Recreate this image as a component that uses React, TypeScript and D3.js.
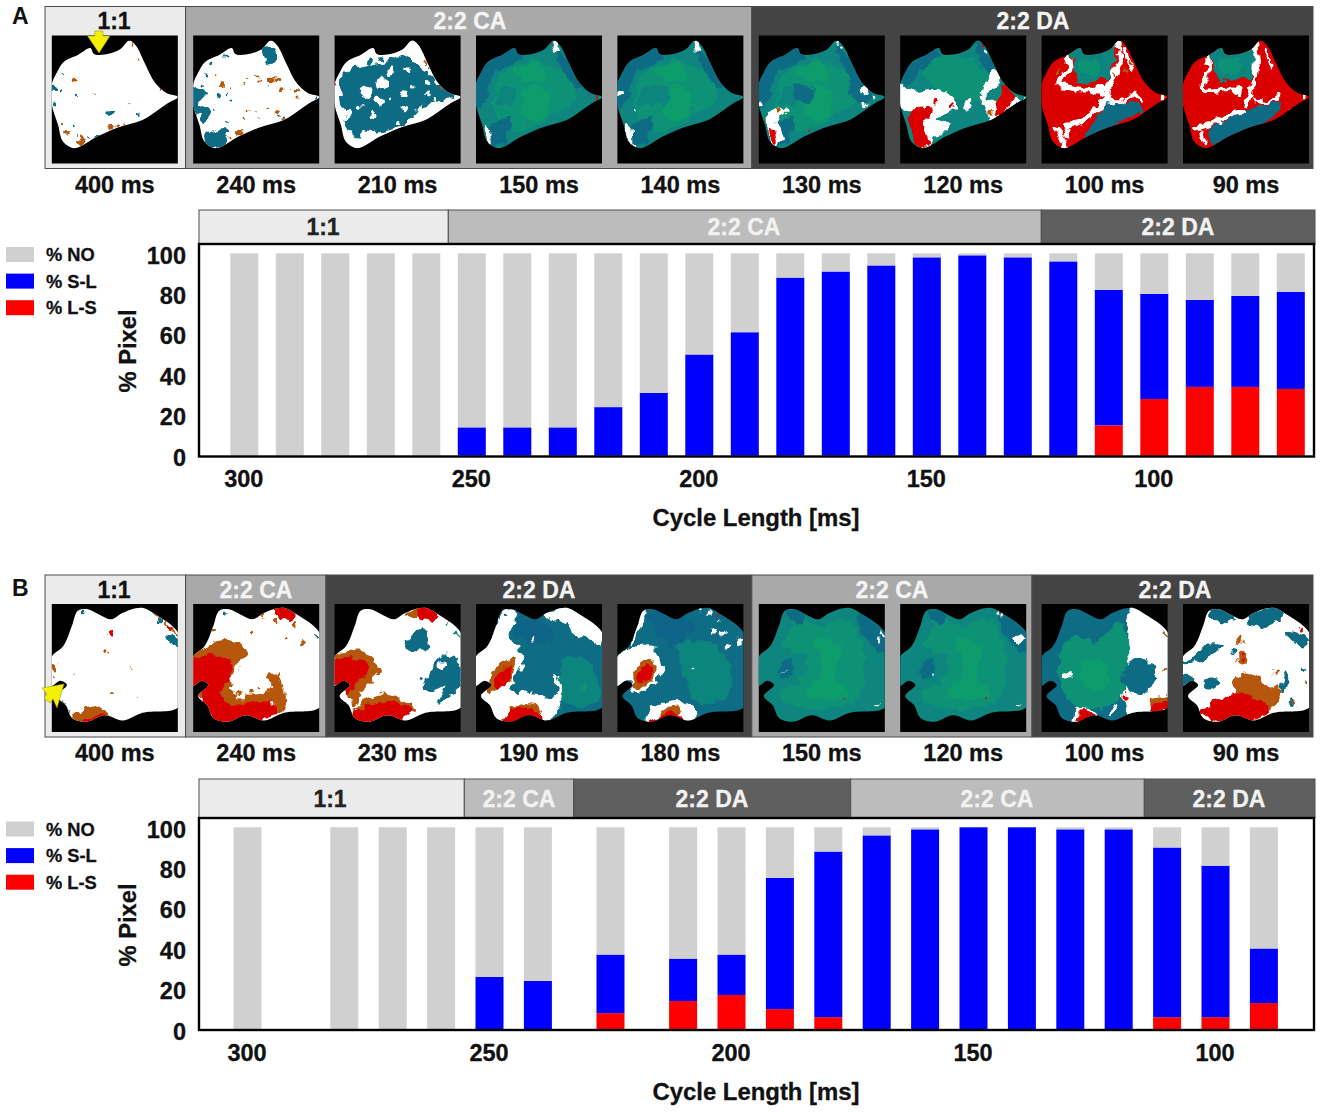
import React from "react";
import * as d3 from "d3";

// ---------- bar chart data ----------
const cycleA = [300,290,280,270,260,250,240,230,220,210,200,190,180,170,160,150,140,130,120,110,100,90,80,70];
const lsA =    [0,0,0,0,0,0,0,0,0,0,0,0,0,0,0,0,0,0,0,15,28,34,34,33];
const slA =    [0,0,0,0,0,14,14,14,24,31,50,61,88,91,94,98,99,98,96,67,52,43,45,48];
const noA =    [100,100,100,100,100,86,86,86,76,69,50,39,12,9,6,2,1,2,4,18,20,23,21,19];

const cycleB = [300,280,270,260,250,240,225,210,200,190,180,170,160,150,140,130,120,110,100,90];
const lsB =    [0,0,0,0,0,0,8,14,17,10,6,0,0,0,0,0,0,6,6,13];
const slB =    [0,0,0,0,26,24,29,21,20,65,82,96,99,100,100,99,99,84,75,27];
const noB =    [100,100,100,100,74,76,63,65,63,25,12,4,1,0,0,1,1,10,19,60];

const xTicks = [300,250,200,150,100];
const yTicks = [0,20,40,60,80,100];
const legendNames = ["% NO","% S-L","% L-S"];
const legendColors = ["#d0d0d0","#0000ff","#ff0000"];

type Seg = { label: string; from: number; to: number; tx: number };
const stripA: Seg[] = [
  { label:"1:1", from:199, to:448.3, tx:323 },
  { label:"2:2 CA", from:448.3, to:1041.3, tx:744 },
  { label:"2:2 DA", from:1041.3, to:1315, tx:1178 },
];
const stripB: Seg[] = [
  { label:"1:1", from:199, to:464.3, tx:330 },
  { label:"2:2 CA", from:464.3, to:573.7, tx:519 },
  { label:"2:2 DA", from:573.7, to:850.7, tx:712 },
  { label:"2:2 CA", from:850.7, to:1144.3, tx:997 },
  { label:"2:2 DA", from:1144.3, to:1315, tx:1229 },
];
const frameA: Seg[] = [
  { label:"1:1", from:45, to:185.6, tx:114 },
  { label:"2:2 CA", from:185.6, to:751.8, tx:470 },
  { label:"2:2 DA", from:751.8, to:1313, tx:1033 },
];
const frameB: Seg[] = [
  { label:"1:1", from:45, to:185.6, tx:114 },
  { label:"2:2 CA", from:185.6, to:326, tx:256 },
  { label:"2:2 DA", from:326, to:751.8, tx:539 },
  { label:"2:2 CA", from:751.8, to:1032, tx:892 },
  { label:"2:2 DA", from:1032, to:1313, tx:1175 },
];
const timesA = ["400 ms","240 ms","210 ms","150 ms","140 ms","130 ms","120 ms","100 ms","90 ms"];
const timesB = ["400 ms","240 ms","230 ms","190 ms","180 ms","150 ms","120 ms","100 ms","90 ms"];

// ---------- tissue maps (map units 0-100) ----------
const W="#ffffff", T="#0e6c84", TD="#0f6488", M="#0f857f", G="#0d9276", GB="#0b9d6c", O="#b5590e", R="#da0000", GY="#909090";
type Pt = [number, number];
type Shape = { c: string; p: Pt[]; w?: number };
type Dots = { c: string; d: [number, number, number][] };
type MapDef = { base: string; shapes: Shape[]; dots: Dots[] };

const outlineA: Pt[] = [[0,38],[4,29],[9,21],[21,15],[31,10],[33,14],[46,14],[54,11],[62,4],[66,7],[74,22],[82,37],[91,45],[100,48],[92,53],[72,66],[52,72],[36,79],[17,88],[9,83],[5,70],[0,54]];
const outlineB: Pt[] = [[0,41],[9,33],[16,17],[21,5],[27,4],[39,9],[47,12],[56,7],[72,3],[82,8],[100,22],[100,81],[72,85],[56,91],[42,87],[27,92],[16,89],[11,79],[4,72],[12,63],[7,60],[0,64]];

const washA: Shape[] = [
  { c:T, p:[[0,32],[15,12],[38,8],[34,20],[14,30],[8,50],[0,58]] },
  { c:T, p:[[60,2],[72,18],[86,42],[72,34]] },
  { c:G, p:[[22,30],[45,20],[68,28],[80,48],[62,62],[45,72],[28,74],[14,55]] },
  { c:GB, p:[[30,26],[52,22],[54,34],[38,36]] },
  { c:GB, p:[[42,40],[58,44],[56,60],[44,68],[36,52]] },
  { c:T, p:[[16,68],[28,64],[26,78],[14,88],[8,76]] },
  { c:M, p:[[20,40],[32,42],[30,54],[18,52]] },
];
const washB: Shape[] = [
  { c:G, p:[[30,12],[50,18],[70,12],[84,40],[80,72],[50,82],[22,78],[16,70],[32,60],[38,38],[20,38]] },
  { c:GB, p:[[46,28],[64,32],[62,58],[72,70],[52,74],[36,72],[50,52]] },
  { c:M, p:[[14,42],[24,34],[30,48],[24,62],[12,56]] },
  { c:T, p:[[18,48],[24,42],[26,52],[20,58]] },
  { c:T, p:[[78,8],[100,22],[100,40],[86,28]] },
  { c:T, p:[[22,4],[36,8],[32,16]] },
];

const mapsA: MapDef[] = [
  { base:W, shapes:[], dots:[
    { c:T, d:[[1,41,2.5],[8,30,1],[7,44,1.5],[2,52,2],[46,61,2],[17,71,1.2],[69,62,1.5],[36,79,1.5],[19,48,1],[20,77,0.8],[30,80,1]] },
    { c:O, d:[[18,36,1.6],[47,72,2.2],[52,71,1.5],[23,82,3],[20,84,1.6],[9,68,1.2],[12,76,1.5],[64,6,1.2],[69,18,0.8],[77,25,0.8],[63,53,0.7],[58,70,1.2],[36,46,0.5]] },
    { c:R, d:[[86,42,1]] },
  ]},
  { base:W, shapes:[
    { c:T, p:[[-3,42],[6,41],[10,46],[5,52],[13,60],[8,68],[4,62],[-3,60]] },
    { c:T, p:[[12,76],[28,74],[26,83],[15,89],[8,82]] },
    { c:T, p:[[55,10],[64,9],[66,20],[58,22]] },
  ], dots:[
    { c:T, d:[[14,22,2],[10,30,1.2],[26,16,1.2],[20,48,1.5],[26,45,1],[30,52,1.2],[18,58,0.8],[68,63,1.2],[72,64,0.8],[8,38,1.2],[28,68,1],[98,48,1.2]] },
    { c:O, d:[[23,38,2.2],[20,31,0.8],[39,37,0.8],[44,33,1],[50,32,0.8],[52,35,1.2],[62,34,2.6],[66,36,1.5],[60,40,0.8],[70,42,1.5],[82,44,1.5],[84,48,1.2],[76,42,0.8],[48,60,1],[44,59,0.8],[52,63,0.8],[60,58,1],[68,60,1.6],[72,65,1.2],[40,65,0.8],[36,76,2.2],[30,80,1.2],[40,48,0.6],[30,42,0.8]] },
  ]},
  { base:W, shapes:[
    { c:T, p:[[5,30],[25,24],[43,20],[51,16],[68,25],[81,36],[95,48],[75,54],[55,70],[28,77],[15,78],[6,52]] },
    { c:W, p:[[50,14],[62,2],[70,10],[72,22],[60,18]] },
  ], dots:[
    { c:T, d:[[28,20,3],[36,18,2],[76,26,1]] },
    { c:W, d:[[25,44,5],[38,37,4.5],[55,45,3],[35,52,3.5],[56,57,3],[30,62,2.5],[68,57,2.5],[73,36,2],[45,28,3],[58,26,2],[20,55,1.5],[50,68,1.5],[45,50,1.5],[74,46,1.5],[30,76,3],[22,78,2.5],[10,62,2.5],[62,40,1.5],[80,50,2]] },
    { c:O, d:[[72,21,1],[84,42,1]] },
    { c:R, d:[[9,84,1.2],[0,38,1]] },
  ]},
  { base:M, shapes:[
    ...washA,
    { c:W, p:[[61,3],[66,8],[67,13],[62,12]] },
    { c:W, p:[[8,70],[10,84],[12,84],[11,72]] },
  ], dots:[{ c:R, d:[[58,6,0.6],[38,70,0.6],[78,40,0.5],[96,47,0.7]] }] },
  { base:M, shapes:[
    ...washA,
    { c:M, p:[[30,38],[42,42],[38,55],[26,52]] },
    { c:W, p:[[61,3],[66,8],[67,13],[62,12]] },
    { c:W, p:[[6,68],[11,70],[13,84],[15,88],[10,85]] },
  ], dots:[
    { c:W, d:[[1,46,2],[13,60,1]] },
    { c:R, d:[[6,66,0.7],[33,70,0.6],[52,58,0.5],[8,82,0.8],[60,58,0.5]] },
  ]},
  { base:M, shapes:[
    ...washA,
    { c:T, p:[[30,36],[44,44],[40,54],[28,50]] },
    { c:T, p:[[72,34],[84,38],[90,50],[76,52]] },
    { c:W, p:[[5,65],[19,55],[22,59],[15,67],[19,80],[12,86],[8,74]] },
    { c:R, p:[[9,72],[12,74],[14,84],[11,82]] },
    { c:O, p:[[14,57],[19,56],[18,60],[15,62]] },
  ], dots:[
    { c:W, d:[[84,43,3],[85,54,2],[90,50,1.5],[1,52,2],[62,5,1.5],[66,9,1.5]] },
    { c:R, d:[[62,3,0.8],[42,70,0.6],[38,74,0.6]] },
  ]},
  { base:M, shapes:[
    { c:G, p:[[18,22],[40,15],[60,22],[70,36],[64,50],[44,50],[22,34]] },
    { c:T, p:[[0,34],[18,14],[30,12],[14,30],[6,38]] },
    { c:T, p:[[60,2],[70,14],[76,28],[66,26]] },
    { c:W, p:[[-3,37],[10,43],[27,42],[42,48],[44,57],[30,63],[37,72],[24,83],[17,90],[14,75],[7,62],[-3,54]] },
    { c:R, p:[[7,62],[19,54],[24,59],[19,72],[22,83],[16,90],[10,75]] },
    { c:W, p:[[74,27],[80,30],[77,38],[67,48],[77,52],[102,48],[87,59],[74,68],[69,59],[64,50]] },
    { c:R, p:[[80,36],[90,49],[78,62],[74,52],[82,46]] },
    { c:R, p:[[88,56],[94,53],[80,64],[74,68]] },
    { c:W, p:[[55,50],[57,52],[52,59],[50,57]] },
  ], dots:[
    { c:R, d:[[27,51,3],[41,55,1.5],[67,7,1.5]] },
    { c:O, d:[[80,28,1.5],[72,60,2]] },
    { c:W, d:[[63,4,1.5],[69,12,1.5],[22,67,2]] },
  ]},
  { base:R, shapes:[
    { c:M, p:[[23,12],[32,9],[42,13],[57,6],[58,17],[52,33],[38,36],[27,34],[25,20]] },
    { c:G, p:[[30,20],[44,20],[48,28],[36,32]] },
    { c:T, p:[[52,52],[80,57],[62,68],[35,82],[38,70],[45,62]] },
    { c:W, w:4.5, p:[[20,14],[22,28],[13,37],[30,42],[48,43],[52,48],[44,58],[33,66],[20,71]] },
    { c:W, w:3.5, p:[[12,72],[16,80],[18,88]] },
    { c:W, w:5, p:[[60,6],[62,20],[54,36],[52,46]] },
    { c:W, w:3, p:[[52,50],[62,52],[72,46],[80,52]] },
    { c:W, w:3.5, p:[[66,10],[72,26]] },
  ], dots:[
    { c:R, d:[[60,12,2.5],[62,42,3],[58,46,2.5]] },
    { c:O, d:[[12,28,1.5],[66,28,1.5],[58,30,1],[70,20,1]] },
    { c:W, d:[[96,47,1.5],[20,76,3],[24,70,2.5]] },
  ]},
  { base:R, shapes:[
    { c:M, p:[[22,12],[32,9],[42,13],[57,3],[58,17],[53,33],[42,34],[27,34],[23,20]] },
    { c:G, p:[[28,20],[42,18],[48,26],[34,30]] },
    { c:T, p:[[53,57],[77,54],[67,68],[48,76],[23,85],[20,75],[33,67]] },
    { c:W, w:3.5, p:[[20,14],[20,30],[16,42],[42,42],[46,46]] },
    { c:W, w:4, p:[[57,6],[58,25],[55,40],[50,55]] },
    { c:W, w:4, p:[[10,73],[20,70],[35,63],[46,60]] },
    { c:W, w:2.5, p:[[14,76],[18,86]] },
    { c:W, w:2.5, p:[[56,50],[68,52],[76,46]] },
    { c:W, w:2, p:[[66,10],[70,24]] },
  ], dots:[
    { c:R, d:[[60,34,3],[58,44,3]] },
    { c:W, d:[[96,46,1.5],[30,68,2]] },
    { c:O, d:[[86,58,1.2]] },
  ]},
];

const mapsB: MapDef[] = [
  { base:W, shapes:[
    { c:O, p:[[17,88],[34,80],[44,84],[46,92],[26,95]] },
    { c:R, p:[[24,91],[39,86],[46,90],[31,96]] },
    { c:O, w:1.5, p:[[82,8],[92,17],[98,24]] },
    { c:T, p:[[91,25],[102,29],[102,33],[92,28]] },
    { c:GY, w:3, p:[[9,78],[14,84]] },
  ], dots:[
    { c:R, d:[[48,24,2.2],[94,20,1.2]] },
    { c:O, d:[[41,37,1.6],[44,40,1],[48,70,1.2],[2,49,2.2],[2,58,1],[19,53,0.7],[63,50,0.5],[68,71,0.5],[42,25,0.6]] },
    { c:T, d:[[26,5,1.5],[86,14,1]] },
  ]},
  { base:W, shapes:[
    { c:O, p:[[-3,40],[7,35],[27,28],[42,37],[33,53],[32,68],[60,68],[67,53],[73,76],[70,84],[23,79],[-3,68]] },
    { c:R, p:[[-3,44],[26,42],[32,50],[22,70],[28,78],[62,76],[68,84],[45,94],[25,96],[10,82],[6,66],[-3,64]] },
    { c:R, p:[[63,3],[77,3],[82,11],[73,12]] },
  ], dots:[
    { c:O, d:[[55,9,2],[80,17,2],[86,30,2],[47,24,1.5],[17,21,2],[62,58,4],[52,65,1],[46,68,2],[75,28,1.5],[66,13,2]] },
    { c:W, d:[[38,72,2.5],[63,78,1.5],[30,60,1.5]] },
    { c:T, d:[[26,6,1.5],[97,26,1]] },
  ]},
  { base:W, shapes:[
    { c:O, p:[[-3,41],[8,37],[25,38],[36,53],[25,64],[15,79],[8,63],[-3,62]] },
    { c:R, p:[[-3,45],[18,43],[26,47],[11,70],[10,66],[-3,61]] },
    { c:O, p:[[15,82],[35,71],[55,75],[65,83],[55,87]] },
    { c:R, p:[[14,86],[45,76],[61,84],[41,94],[21,94]] },
    { c:T, p:[[55,33],[70,18],[75,34],[63,37]] },
    { c:T, p:[[71,66],[85,41],[95,41],[102,61],[88,74],[81,78],[88,64],[78,68]] },
    { c:R, p:[[63,5],[78,3],[83,12],[71,12]] },
    { c:O, p:[[56,8],[66,5],[66,11]] },
  ], dots:[
    { c:W, d:[[85,48,2.5],[20,76,1.5]] },
    { c:T, d:[[70,58,1.5],[90,16,1]] },
    { c:M, d:[[96,24,1.5]] },
  ]},
  { base:T, shapes:[
    { c:TD, p:[[30,12],[50,14],[62,26],[40,30]] },
    { c:M, p:[[70,42],[90,46],[96,76],[70,76]] },
    { c:W, p:[[-3,41],[9,29],[14,18],[24,3],[31,6],[26,26],[39,42],[28,66],[49,71],[64,71],[63,55],[68,64],[63,87],[53,93],[39,90],[24,95],[16,92],[-3,64]] },
    { c:W, p:[[46,4],[60,6],[70,3],[82,6],[102,24],[99,32],[88,26],[78,24],[72,15],[60,12]] },
    { c:O, p:[[9,64],[16,50],[31,42],[28,58],[13,68]] },
    { c:R, p:[[14,61],[28,46],[23,63],[17,66]] },
    { c:O, p:[[26,83],[46,78],[51,89],[26,91]] },
    { c:R, p:[[21,92],[28,83],[46,82],[52,90],[31,96]] },
  ], dots:[
    { c:G, d:[[86,66,3],[68,80,0.8]] },
    { c:W, d:[[46,28,1.5],[44,70,1.2],[64,58,1.5]] },
    { c:T, d:[[25,8,1.5],[50,6,1.5]] },
  ]},
  { base:T, shapes:[
    { c:TD, p:[[24,8],[40,8],[60,16],[44,34],[36,26]] },
    { c:M, p:[[50,30],[80,34],[90,70],[66,78],[54,60]] },
    { c:W, p:[[-3,42],[24,32],[33,39],[36,53],[28,62],[17,70],[8,62],[-3,64]] },
    { c:O, p:[[11,60],[24,43],[32,50],[17,67]] },
    { c:R, p:[[15,58],[24,47],[28,50],[18,63]] },
    { c:W, p:[[24,84],[47,75],[61,82],[61,94],[24,95]] },
    { c:O, p:[[34,86],[46,79],[50,86],[40,88]] },
    { c:R, p:[[24,93],[34,87],[46,84],[52,92],[34,96]] },
    { c:W, p:[[10,32],[20,3],[24,2],[18,20]] },
  ], dots:[
    { c:W, d:[[67,5,1.5],[73,7,1.5],[77,22,2],[84,22,2],[87,33,2.5],[97,30,2.5],[80,14,1],[60,50,1],[46,3,1]] },
    { c:R, d:[[80,9,1.2]] },
  ]},
  { base:M, shapes:[...washB], dots:[
    { c:R, d:[[68,72,0.8]] },
    { c:W, d:[[20,52,0.4],[97,24,1.2],[95,29,1.2],[94,80,0.7]] },
  ]},
  { base:M, shapes:[...washB], dots:[
    { c:R, d:[[68,72,0.9]] },
    { c:W, d:[[24,55,1],[77,7,1.5],[81,9,1.5],[92,28,2.5],[96,28,2],[94,80,0.7]] },
  ]},
  { base:T, shapes:[
    { c:G, p:[[14,42],[28,24],[44,30],[62,14],[68,32],[62,74],[42,82],[26,80],[14,58]] },
    { c:GB, p:[[34,44],[52,46],[50,66],[34,66]] },
    { c:W, p:[[72,3],[82,6],[102,22],[102,84],[88,86],[72,87],[66,70],[70,54],[68,38]] },
    { c:T, p:[[65,50],[78,42],[90,53],[82,71],[68,66]] },
    { c:O, p:[[86,74],[102,72],[102,78],[88,80]] },
    { c:R, p:[[86,80],[102,77],[102,84],[88,84]] },
    { c:W, p:[[24,92],[28,82],[40,83],[46,90],[36,92]] },
    { c:R, p:[[28,90],[32,83],[40,85],[42,90],[30,92]] },
    { c:W, w:2.5, p:[[58,80],[54,87]] },
  ], dots:[
    { c:W, d:[[67,72,3.2],[20,55,2.5]] },
    { c:R, d:[[67,72,2],[44,28,0.5]] },
    { c:O, d:[[97,24,1],[98,50,1.5]] },
  ]},
  { base:W, shapes:[
    { c:T, p:[[20,10],[27,2],[43,10],[34,14]] },
    { c:T, p:[[53,8],[80,5],[77,12],[53,18]] },
    { c:T, p:[[83,21],[100,29],[96,34],[84,26]] },
    { c:T, p:[[8,42],[20,32],[30,33],[13,45],[-2,47]] },
    { c:T, p:[[-2,55],[4,52],[7,63],[-2,64]] },
    { c:T, p:[[83,52],[85,54],[80,70],[78,68]] },
    { c:O, p:[[47,54],[63,58],[67,66],[77,63],[73,79],[67,82],[40,68]] },
    { c:R, p:[[13,85],[43,70],[60,74],[70,83],[47,94],[27,91]] },
  ], dots:[
    { c:T, d:[[23,62,5],[40,36,2.5],[87,76,3],[96,50,1.5]] },
    { c:O, d:[[47,42,4],[45,28,2.5],[73,54,2],[98,60,1.5],[88,76,2],[49,30,1]] },
    { c:R, d:[[94,21,1.2],[47,42,1.2]] },
  ]},
];

// ---------- layout ----------
const FONT = "'Liberation Sans', Arial, Helvetica, sans-serif";
const TEXT = "#111111";
const smooth = d3.line().curve(d3.curveCatmullRomClosed.alpha(0.5));
const open = d3.line().curve(d3.curveCatmullRom.alpha(0.5));
const outlineCurve = d3.line().curve(d3.curveCatmullRomClosed.alpha(0.8));
const thumbIndex = d3.scaleLinear().domain([0, 8]).range([51.8, 1183]);
const thumbSize = 126;
const mapScaleX = d3.scaleLinear().domain([0, 100]).range([0, thumbSize]);
const mapScaleY = d3.scaleLinear().domain([0, 100]).range([0, 128]);
const toPx = (pts: Pt[]): [number, number][] => pts.map(([u, v]) => [mapScaleX(u), mapScaleY(v)]);

function segFill(label: string, strip: boolean) {
  if (label === "1:1") return "#ebebeb";
  if (label === "2:2 CA") return strip ? "#bcbcbc" : "#a9a9a9";
  return strip ? "#5f5f5f" : "#444444";
}

function Thumb({ id, x, y, def, outline }: { id: string; x: number; y: number; def: MapDef; outline: Pt[] }) {
  const d = outlineCurve(toPx(outline)) as string;
  return (
    <g transform={`translate(${x},${y})`}>
      <rect width={thumbSize} height={128} fill="#000" />
      <clipPath id={id}><rect x={0} y={0} width={thumbSize} height={128} clipPath={undefined} /></clipPath>
      <clipPath id={`${id}o`}><path d={d} /></clipPath>
      <g clipPath={`url(#${id})`}>
        <g clipPath={`url(#${id}o)`}>
          <rect x={-5} y={-5} width={thumbSize + 10} height={138} fill={def.base} />
          <g filter="url(#rough)">
            {def.shapes.map((s, i) =>
              s.w ? (
                <path key={i} d={open(toPx(s.p)) as string} fill="none" stroke={s.c} strokeWidth={s.w * 1.26} strokeLinecap="round" />
              ) : (
                <path key={i} d={smooth(toPx(s.p)) as string} fill={s.c} />
              )
            )}
            {def.dots.map((g, i) =>
              g.d.map(([u, v, r], j) => (
                <circle key={`${i}-${j}`} cx={mapScaleX(u)} cy={mapScaleY(v)} r={r * 1.26} fill={g.c} />
              ))
            )}
          </g>
        </g>
      </g>
    </g>
  );
}

function MapRow({ prefix, top, frame, maps, times, outline }: { prefix: string; top: number; frame: Seg[]; maps: MapDef[]; times: string[]; outline: Pt[] }) {
  const y0 = top, y1 = top + 162;
  return (
    <g>
      {frame.map((s, i) => (
        <rect key={i} x={s.from} y={y0} width={s.to - s.from} height={y1 - y0} fill={segFill(s.label, false)} stroke="#4a4a4a" strokeWidth={1} />
      ))}
      {maps.map((m, i) => (
        <Thumb key={i} id={`${prefix}${i}`} x={thumbIndex(i)} y={top + 29} def={m} outline={outline} />
      ))}
      {frame.map((s, i) => (
        <text key={i} x={s.tx} y={top + 22.5} textAnchor="middle" fontSize={23} fontWeight="bold" fill={s.label === "1:1" ? TEXT : "#f4f4f4"} stroke={s.label === "1:1" ? TEXT : "#f4f4f4"} strokeWidth={0.3}>{s.label}</text>
      ))}
      {times.map((t, i) => (
        <text key={i} x={thumbIndex(i) + 63} y={y1 + 24} textAnchor="middle" fontSize={23.5} fontWeight="bold" fill={TEXT} stroke={TEXT} strokeWidth={0.3}>{t}</text>
      ))}
    </g>
  );
}

type BarProps = {
  cycle: number[]; ls: number[]; sl: number[]; no: number[]; strip: Seg[];
  stripTop: number; frameTop: number; frameBottom: number; y100: number; y0: number;
  x300: number; pxPerMs: number; legendTop: number; yLabelY: number; tickBase: number; titleBase: number;
};

function BarPanel(p: BarProps) {
  const x = d3.scaleLinear().domain([300, 100]).range([p.x300, p.x300 + 200 * p.pxPerMs]);
  const y = d3.scaleLinear().domain([0, 100]).range([p.y0, p.y100]);
  const rows = p.cycle.map((c, i) => ({ c, LS: p.ls[i], SL: p.sl[i], NO: p.no[i] }));
  const stacked = d3.stack<any>().keys(["LS", "SL", "NO"])(rows);
  const colors = [legendColors[2], legendColors[1], legendColors[0]];
  const barW = 28;
  const heavy = { fill: TEXT, stroke: TEXT, strokeWidth: 0.3 };
  return (
    <g>
      {p.strip.map((s, i) => (
        <rect key={i} x={s.from} y={p.stripTop} width={s.to - s.from} height={p.frameTop - p.stripTop} fill={segFill(s.label, true)} stroke="#4f4f4f" strokeWidth={1} />
      ))}
      {p.strip.map((s, i) => (
        <text key={i} x={s.tx} y={(p.stripTop + p.frameTop) / 2 + 8} textAnchor="middle" fontSize={23} fontWeight="bold" fill={s.label === "1:1" ? "#222" : "#f2f2f2"} stroke={s.label === "1:1" ? "#222" : "#f2f2f2"} strokeWidth={0.3}>{s.label}</text>
      ))}
      <rect x={199} y={p.frameTop} width={1115} height={p.frameBottom - p.frameTop} fill="#fff" />
      {stacked.map((layer, k) =>
        layer.map((d, i) =>
          d[1] > d[0] ? (
            <rect key={`${k}-${i}`} x={x(rows[i].c) - barW / 2} y={y(d[1])} width={barW} height={y(d[0]) - y(d[1])} fill={colors[k]} />
          ) : null
        )
      )}
      <rect x={199} y={p.frameTop} width={1115} height={p.frameBottom - p.frameTop} fill="none" stroke="#000" strokeWidth={2.4} />
      {yTicks.map((t) => (
        <text key={t} x={186} y={y(t) + 10.2} textAnchor="end" fontSize={23.5} fontWeight="bold" {...heavy}>{t}</text>
      ))}
      {xTicks.map((t) => (
        <text key={t} x={x(t) - 0.5} y={p.tickBase} textAnchor="middle" fontSize={23.5} fontWeight="bold" {...heavy}>{t}</text>
      ))}
      <text x={756} y={p.titleBase} textAnchor="middle" fontSize={23.9} fontWeight="bold" {...heavy}>Cycle Length [ms]</text>
      <text transform={`translate(136,${p.yLabelY}) rotate(-90)`} textAnchor="middle" fontSize={23.7} fontWeight="bold" {...heavy}>% Pixel</text>
      {legendNames.map((n, i) => (
        <g key={n}>
          <rect x={6} y={p.legendTop + i * 26.6} width={28} height={15} fill={legendColors[i]} />
          <text x={46} y={p.legendTop + i * 26.6 + 14} fontSize={18.3} fontWeight="bold" {...heavy}>{n}</text>
        </g>
      ))}
    </g>
  );
}

export default function App() {
  return (
    <svg width={1322} height={1112} viewBox="0 0 1322 1112" fontFamily={FONT} style={{ position: "absolute", left: 0, top: 0, background: "#fff" }}>
      <defs>
        <filter id="rough" filterUnits="userSpaceOnUse" x={-25} y={-25} width={180} height={180}>
          <feTurbulence type="fractalNoise" baseFrequency="0.11" numOctaves={2} seed={4} result="n" />
          <feDisplacementMap in="SourceGraphic" in2="n" scale={11} xChannelSelector="R" yChannelSelector="G" />
          <feGaussianBlur stdDeviation="0.4" />
        </filter>
      </defs>
      <text x={12} y={24} fontSize={23} fontWeight="bold" fill={TEXT}>A</text>
      <MapRow prefix="a" top={6.5} frame={frameA} maps={mapsA} times={timesA} outline={outlineA} />
      <polygon points="94.7,31 103,31 103,36 110,36 99,53 87.5,36 94.7,36" fill="#f5f000" stroke="#8a8a30" strokeWidth={0.5} />
      <BarPanel cycle={cycleA} ls={lsA} sl={slA} no={noA} strip={stripA} stripTop={210} frameTop={244} frameBottom={456.5} y100={253.3} y0={455.7}
        x300={244.3} pxPerMs={4.55} legendTop={247} yLabelY={351} tickBase={487} titleBase={526} />

      <text x={12} y={596} fontSize={23} fontWeight="bold" fill={TEXT}>B</text>
      <MapRow prefix="b" top={575} frame={frameB} maps={mapsB} times={timesB} outline={outlineB} />
      <polygon points="64,684 42,688 47,694 44,698 50,703 53,699 57,708" fill="#f5f000" stroke="#8a8a30" strokeWidth={0.5} />
      <BarPanel cycle={cycleB} ls={lsB} sl={slB} no={noB} strip={stripB} stripTop={779} frameTop={818} frameBottom={1030} y100={827.3} y0={1029.3}
        x300={247.5} pxPerMs={4.84} legendTop={821.5} yLabelY={925} tickBase={1061} titleBase={1100} />
    </svg>
  );
}
